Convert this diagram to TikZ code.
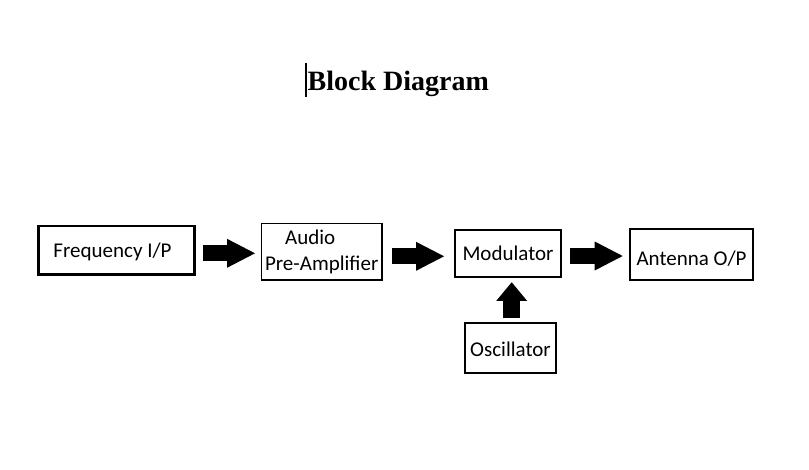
\documentclass[tikz,border=0pt]{standalone}
\usepackage{fontspec}
\setmainfont{Carlito}
\newfontfamily\titlefont{Liberation Serif}
\usetikzlibrary{arrows.meta}
\begin{document}
\begin{tikzpicture}[x=1pt,y=-1pt,
  boxbase/.style={draw, rectangle, inner sep=1pt,
    font=\fontsize{21}{26.7}\selectfont, align=center},
  box/.style={boxbase, text height=15pt, text depth=1.5pt},
  thickbox/.style={box, line width=2.2pt},
  thinbox/.style={box, line width=1.7pt},
  fat/.style={line width=16pt, -{Triangle[length=28pt 0 0, width=29pt 0 0, line width=0pt 0 0]}},
  fatup/.style={line width=16.7pt, -{Triangle[length=18.7pt 0 0, width=31pt 0 0, line width=0pt 0 0]}}]
\fill[white] (0,0) rectangle (809,469);
\useasboundingbox (0,0) rectangle (809,469);

\node[font=\titlefont\bfseries\fontsize{28}{34}\selectfont, anchor=base west, inner sep=0pt] (title) at (307.5,90) {Block Diagram};
\draw[line width=1.3pt] (306,62.5) -- (306,96.5);

\node[thickbox, minimum width=156pt, minimum height=48.5pt] (f) at (116.5,250.3) {Frequency I/P\rule{8pt}{0pt}};
\node[boxbase, line width=1.7pt, minimum width=120.3pt, minimum height=56.7pt] (a) at (321.7,251.9) {Audio\rule{23pt}{0pt}\\Pre-Amplifier};
\node[thinbox, minimum width=106.2pt, minimum height=47.2pt] (m) at (508,253.5) {Modulator};
\node[thickbox, minimum width=122.8pt, minimum height=50.5pt, text height=23pt, text depth=1.7pt] (ant) at (691.5,254.4) {Antenna O/P};
\node[box, line width=2pt, minimum width=91pt, minimum height=50.3pt, text height=19pt] (o) at (510.5,347.9) {Oscillator};

\draw[fat, shorten <=6.9pt, shorten >=5.7pt] ([yshift=-3pt]f.east) -- ([yshift=-3pt]f.east -| a.west);
\draw[fat, shorten <=9pt, shorten >=10pt] ([yshift=-4.4pt]a.east) -- ([yshift=-4.4pt]a.east -| m.west);
\draw[fat, shorten <=8pt, shorten >=6.3pt] ([yshift=-2.5pt]m.east) -- ([yshift=-2.5pt]m.east -| ant.west);
\draw[fatup, shorten <=3.4pt, shorten >=4.3pt] ([xshift=1.2pt]o.north) -- ([xshift=1.2pt]o.north |- m.south);
\end{tikzpicture}
\end{document}
